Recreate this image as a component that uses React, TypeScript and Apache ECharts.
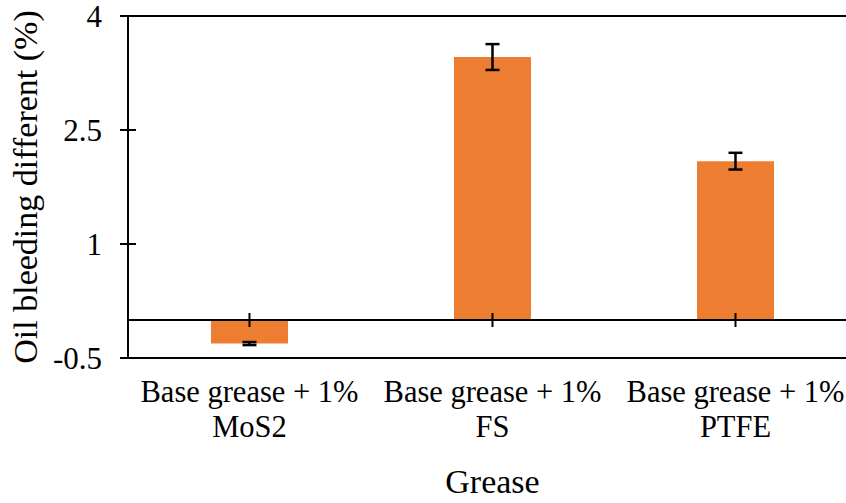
import React, { useEffect, useRef } from "react";
import * as echarts from "echarts";

const categories = ["Base grease + 1%\nMoS2", "Base grease + 1%\nFS", "Base grease + 1%\nPTFE"];
const values = [-0.31, 3.46, 2.09];
const errors = [0.02, 0.17, 0.11];
const yTicks = [-0.5, 1, 2.5, 4];
const yInnerTicks = [1, 2.5];

const FONT = "Liberation Serif";

export default function App() {
  const ref = useRef<HTMLDivElement>(null);
  useEffect(() => {
    if (!ref.current) return;
    const chart = echarts.init(ref.current, null, { renderer: "svg" });
    const black = "#000";
    chart.setOption({
      animation: false,
      backgroundColor: "#fff",
      grid: { left: 125, top: 16, width: 732, height: 347, containLabel: false },
      xAxis: [
        {
          type: "category",
          position: "bottom",
          data: categories,
          axisLine: { onZero: false, lineStyle: { color: black, width: 2 } },
          axisTick: { show: false },
          axisLabel: {
            color: black,
            fontFamily: FONT,
            fontSize: 30.5,
            lineHeight: 35,
            margin: 16,
            interval: 0,
          },
          name: "Grease",
          nameLocation: "middle",
          nameGap: 106,
          nameTextStyle: { color: black, fontFamily: FONT, fontSize: 34 },
          splitLine: { show: false },
        },
        {
          type: "category",
          position: "top",
          data: categories,
          axisLine: { onZero: false, lineStyle: { color: black, width: 2 } },
          axisTick: { show: false },
          axisLabel: { show: false },
          splitLine: { show: false },
        },
      ],
      yAxis: [
        {
          type: "value",
          position: "left",
          min: -0.5,
          max: 4,
          axisLine: { show: true, lineStyle: { color: black, width: 2 } },
          axisTick: {
            show: true,
            length: 8,
            customValues: yTicks,
            lineStyle: { color: black, width: 2 },
          },
          axisLabel: {
            customValues: yTicks,
            color: black,
            fontFamily: FONT,
            fontSize: 31,
            margin: 26,
          },
          splitLine: { show: false },
          name: "Oil bleeding different (%)",
          nameLocation: "middle",
          nameRotate: 90,
          nameGap: 77,
          nameTextStyle: { color: black, fontFamily: FONT, fontSize: 34 },
        },
        {
          type: "value",
          position: "left",
          offset: 0,
          min: -0.5,
          max: 4,
          axisLine: { show: false },
          axisTick: {
            show: true,
            inside: true,
            length: 8,
            customValues: yInnerTicks,
            lineStyle: { color: black, width: 2 },
          },
          axisLabel: { show: false },
          splitLine: { show: false },
        },
      ],
      series: [
        {
          type: "bar",
          data: values,
          barWidth: 77,
          itemStyle: { color: "#ED7D31" },
          markLine: {
            silent: true,
            symbol: "none",
            label: { show: false },
            lineStyle: { color: black, width: 2, type: "solid" },
            data: [{ yAxis: 0 }],
          },
          z: 2,
        },
        {
          type: "custom",
          z: 10,
          data: values.map((v, i) => [i, v, errors[i]]),
          renderItem: (params: any, api: any) => {
            const i = api.value(0);
            const v = api.value(1);
            const e = api.value(2);
            const top = api.coord([i, v + e]);
            const bot = api.coord([i, v - e]);
            const zero = api.coord([i, 0]);
            const cap = 7;
            const style = { stroke: black, lineWidth: 2.5 };
            return {
              type: "group",
              children: [
                { type: "line", shape: { x1: top[0], y1: top[1], x2: bot[0], y2: bot[1] }, style },
                { type: "line", shape: { x1: top[0] - cap, y1: top[1], x2: top[0] + cap, y2: top[1] }, style },
                { type: "line", shape: { x1: bot[0] - cap, y1: bot[1], x2: bot[0] + cap, y2: bot[1] }, style },
                {
                  type: "line",
                  shape: { x1: zero[0], y1: zero[1] - 7, x2: zero[0], y2: zero[1] + 7 },
                  style: { stroke: black, lineWidth: 2 },
                },
              ],
            };
          },
        },
      ],
    });
    return () => chart.dispose();
  }, []);
  return (
    <div style={{ position: "fixed", left: 0, top: 0, width: 846, height: 503, overflow: "hidden", background: "#fff" }}>
      <div ref={ref} style={{ width: 870, height: 503 }} />
    </div>
  );
}
